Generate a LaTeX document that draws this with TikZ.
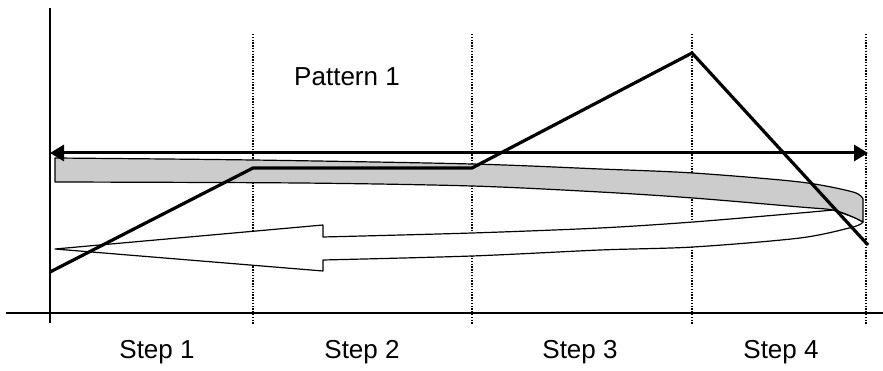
\documentclass[tikz,border=0pt]{standalone}
\usepackage{fontspec}
\setmainfont{Liberation Sans}
\usetikzlibrary{arrows.meta}

\begin{document}
\begin{tikzpicture}[x=1pt,y=-1pt,
    lbl/.style={font=\fontsize{26}{30}\selectfont,inner sep=0pt},
    divider/.style={line width=1.4pt,dash pattern=on 1.4pt off 1.4pt},
    profile/.style={line width=3.2pt,line join=miter}]
  \useasboundingbox (0,0) rectangle (883,371);
  % axes
  \coordinate (ytop) at (50,8);
  \coordinate (ybot) at (50,323);
  \coordinate (xl) at (6,313);
  \coordinate (xr) at (883,313);
  \draw[line width=1.3pt] (ytop) -- (ybot);
  \draw[line width=2pt] (xl) -- (xr);
  % step borders
  \foreach \x/\n in {253/a,472/b,692/c,866/d}{
    \coordinate (t\n) at (\x,34);
    \coordinate (b\n) at (\x,325);
    \draw[divider] (t\n) -- (b\n);
  }
  % return arrow (white underside)
  \filldraw[fill=white,draw=black,line width=1.2pt,line join=round]
    (55,249) -- (323,225) -- (323,237)
    -- plot[smooth] coordinates {(323,237) (472,233) (600,228) (693,222) (800,213) (833,210)}
    -- plot[smooth] coordinates {(833,210) (853,217) (863,222)}
    -- plot[smooth] coordinates {(863,222) (853,227) (800,238) (693,247) (600,250) (472,256) (323,260)}
    -- (323,271) -- cycle;
  % grey band (upper side)
  \filldraw[fill=black!20,draw=black,line width=1.2pt,line join=round]
    plot[smooth] coordinates {(55,158) (253,160) (472,164) (600,169) (693,173) (800,182) (853,192) (863,199)}
    -- (863,222)
    -- plot[smooth] coordinates {(863,222) (853,217) (833,210) (800,207) (693,198) (600,192) (472,186) (300,183) (55,182)}
    -- cycle;
  % pattern span
  \coordinate (pl) at (50,153);
  \coordinate (pr) at (868,153);
  \draw[{Triangle[length=14pt,width=16pt]}-{Triangle[length=14pt,width=16pt]},line width=3pt]
    (pl) -- (pr);
  % time profile
  \coordinate (p0) at (50,272);
  \coordinate (p1) at (253,168);
  \coordinate (p2) at (472,168);
  \coordinate (p3) at (692,53);
  \coordinate (p4) at (868,245);
  \draw[profile] (p0) -- (p1) -- (p2) -- (p3) -- (p4);
  % labels
  \node[lbl] (pat) at (347,77) {Pattern 1};
  \foreach \x [count=\i] in {157,362,580,781}
    \node[lbl] (s\i) at (\x,352) {Step \i};
\end{tikzpicture}
\end{document}
